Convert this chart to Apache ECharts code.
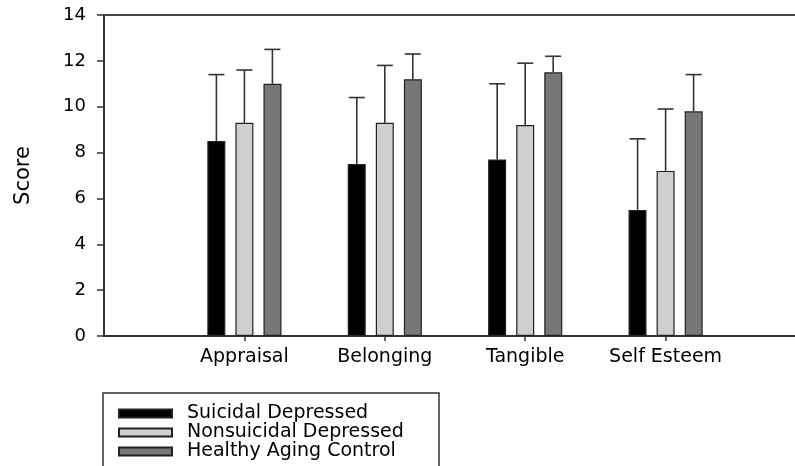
<!DOCTYPE html>
<html>
<head>
<meta charset="utf-8">
<script src="https://cdn.jsdelivr.net/npm/echarts@6/dist/echarts.min.js"></script>
<style>html,body{margin:0;padding:0;background:#fff}#c{width:795px;height:466px}</style>
</head>
<body>
<div id="c"></div>
<script>
var categories = ['Appraisal', 'Belonging', 'Tangible', 'Self Esteem'];
var seriesNames = ['Suicidal Depressed', 'Nonsuicidal Depressed', 'Healthy Aging Control'];
var suicidal = [8.5, 7.5, 7.7, 5.5];
var suicidalUpper = [11.4, 10.4, 11.0, 8.6];
var nonsuicidal = [9.3, 9.3, 9.2, 7.2];
var nonsuicidalUpper = [11.6, 11.8, 11.9, 9.9];
var healthy = [11.0, 11.2, 11.5, 9.8];
var healthyUpper = [12.5, 12.3, 12.2, 11.4];
var yTicks = [0, 2, 4, 6, 8, 10, 12, 14];

var FONT = 'DejaVu Sans';
var colors = ['#000000', '#cfcfcf', '#777777'];
var means = [suicidal, nonsuicidal, healthy];
var uppers = [suicidalUpper, nonsuicidalUpper, healthyUpper];
var offsets = [-28, 0, 28];

var axisCats = [''].concat(categories, ['']);
function pad(arr) { return ['-'].concat(arr, ['-']); }

var series = [];
seriesNames.forEach(function (name, k) {
  series.push({
    name: name, type: 'bar', data: pad(means[k]),
    barWidth: 18, barGap: '56%',
    itemStyle: { color: colors[k], borderColor: '#222', borderWidth: 1.2 },
    z: 2
  });
});
seriesNames.forEach(function (name, k) {
  var d = means[k].map(function (m, i) { return [i + 1, m, uppers[k][i]]; });
  series.push({
    type: 'custom', name: name + ' err', data: d, z: 3, silent: true,
    renderItem: function (params, api) {
      var lo = api.coord([api.value(0), api.value(1)]);
      var hi = api.coord([api.value(0), api.value(2)]);
      var x = lo[0] + offsets[k];
      var st = { stroke: '#333', lineWidth: 1.6 };
      return { type: 'group', children: [
        { type: 'line', shape: { x1: x, y1: lo[1], x2: x, y2: hi[1] }, style: st },
        { type: 'line', shape: { x1: x - 8, y1: hi[1], x2: x + 8, y2: hi[1] }, style: st }
      ]};
    }
  });
});

var chart = echarts.init(document.getElementById('c'));
chart.setOption({
  animation: false,
  backgroundColor: '#fff',
  grid: { left: 104, top: 15, right: -11, bottom: 130, show: true, borderColor: '#444', borderWidth: 2, backgroundColor: 'transparent', outerBoundsMode: 'none', containLabel: false },
  legend: {
    data: seriesNames, orient: 'vertical', left: 118, top: 404, padding: 0,
    itemWidth: 53, itemHeight: 8, itemGap: 0, icon: 'rect',
    textStyle: { fontFamily: FONT, fontSize: 19, color: '#000', lineHeight: 19, padding: [0, 0, 0, 10] },
    selectedMode: false
  },
  graphic: [{ type: 'rect', shape: { x: 103, y: 393, width: 336, height: 100 }, style: { fill: 'none', stroke: '#333', lineWidth: 1.5 }, silent: true }],
  xAxis: {
    type: 'category', data: axisCats, boundaryGap: false,
    axisLine: { lineStyle: { color: '#333', width: 2 } },
    axisTick: { length: 5, lineStyle: { color: '#333', width: 1.5 }, interval: function (i, v) { return v !== ''; } },
    axisLabel: { interval: 0, margin: 12, fontFamily: FONT, fontSize: 19, color: '#000' },
    splitLine: { show: false }
  },
  yAxis: {
    type: 'value', min: yTicks[0], max: yTicks[yTicks.length - 1], interval: 2,
    name: 'Score', nameLocation: 'middle', nameGap: 70, nameRotate: 90,
    nameTextStyle: { fontFamily: FONT, fontSize: 21, color: '#000' },
    axisLine: { show: true, lineStyle: { color: '#333', width: 2 } },
    axisTick: { show: true, length: 7, lineStyle: { color: '#333', width: 1.5 } },
    axisLabel: { margin: 18, fontFamily: FONT, fontSize: 18, color: '#000' },
    splitLine: { show: false }
  },
  series: series
});
</script>
</body>
</html>
